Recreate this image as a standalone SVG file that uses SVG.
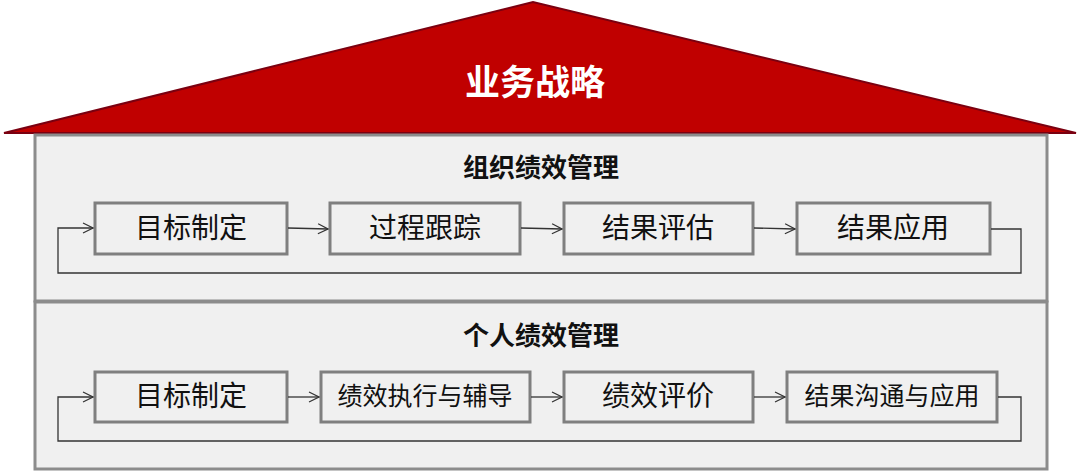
<svg xmlns="http://www.w3.org/2000/svg" width="1080" height="472" viewBox="0 0 1080 472">
<defs><marker id="ar" markerWidth="12" markerHeight="12" refX="11" refY="6" orient="auto" markerUnits="userSpaceOnUse"><path d="M1,1 L11,6 L1,11" fill="none" stroke="#333" stroke-width="1.2"/></marker></defs>
<style>
.panel{fill:#f0f0f0;stroke:#8c8c8c;stroke-width:3}
.box{fill:#f0f0f0;stroke:#7f7f7f;stroke-width:3}
.t{font-family:"Noto Sans CJK SC",sans-serif;font-size:28px;fill:#111;text-anchor:middle;dominant-baseline:central}
.h{font-family:"Noto Sans CJK SC",sans-serif;font-size:26px;font-weight:bold;fill:#111;text-anchor:middle;dominant-baseline:central}
.c{fill:none;stroke:#333;stroke-width:1.3}
</style>
<g id="roof"><polygon points="4,133 533,2 1076,133" fill="#c00000" stroke="#7a0010" stroke-width="2"/>
<text x="535" y="79" class="h" style="fill:#fff;font-size:35px">业务战略</text></g>
<g id="org"><rect x="35" y="135" width="1012" height="166" class="panel"/><text x="541" y="165" class="h">组织绩效管理</text></g>
<g id="ind"><rect x="35" y="302" width="1012" height="167" class="panel"/><text x="541" y="333" class="h">个人绩效管理</text></g>
<g id="o1"><rect x="95" y="203" width="192" height="51" class="box"/><text x="191" y="226" class="t">目标制定</text></g>
<g id="o2"><rect x="330" y="203" width="190" height="51" class="box"/><text x="425" y="226" class="t">过程跟踪</text></g>
<g id="o3"><rect x="564" y="203" width="189" height="51" class="box"/><text x="658" y="226" class="t">结果评估</text></g>
<g id="o4"><rect x="797" y="203" width="193" height="51" class="box"/><text x="893" y="226" class="t">结果应用</text></g>
<g id="p1"><rect x="95" y="372" width="192" height="50" class="box"/><text x="191" y="394" class="t">目标制定</text></g>
<g id="p2"><rect x="321" y="372" width="209" height="50" class="box"/><text x="425" y="394" class="t" style="font-size:25px">绩效执行与辅导</text></g>
<g id="p3"><rect x="564" y="372" width="189" height="50" class="box"/><text x="658" y="394" class="t">绩效评价</text></g>
<g id="p4"><rect x="787" y="372" width="210" height="50" class="box"/><text x="892" y="394" class="t" style="font-size:25px">结果沟通与应用</text></g>
<g id="connectors">
<path class="c" marker-end="url(#ar)" d="M288,228 L328,229"/>
<path class="c" marker-end="url(#ar)" d="M521,228 L562,229"/>
<path class="c" marker-end="url(#ar)" d="M754,228 L795,229"/>
<path class="c" marker-end="url(#ar)" d="M991,229 L1021,229 L1021,273 L58,273 L58,228 L93,228"/>
<path class="c" marker-end="url(#ar)" d="M288,397 L319,397"/>
<path class="c" marker-end="url(#ar)" d="M531,397 L562,397"/>
<path class="c" marker-end="url(#ar)" d="M754,397 L785,397"/>
<path class="c" marker-end="url(#ar)" d="M998,397 L1021,397 L1021,441 L58,441 L58,397 L93,397"/>
</g>
</svg>
